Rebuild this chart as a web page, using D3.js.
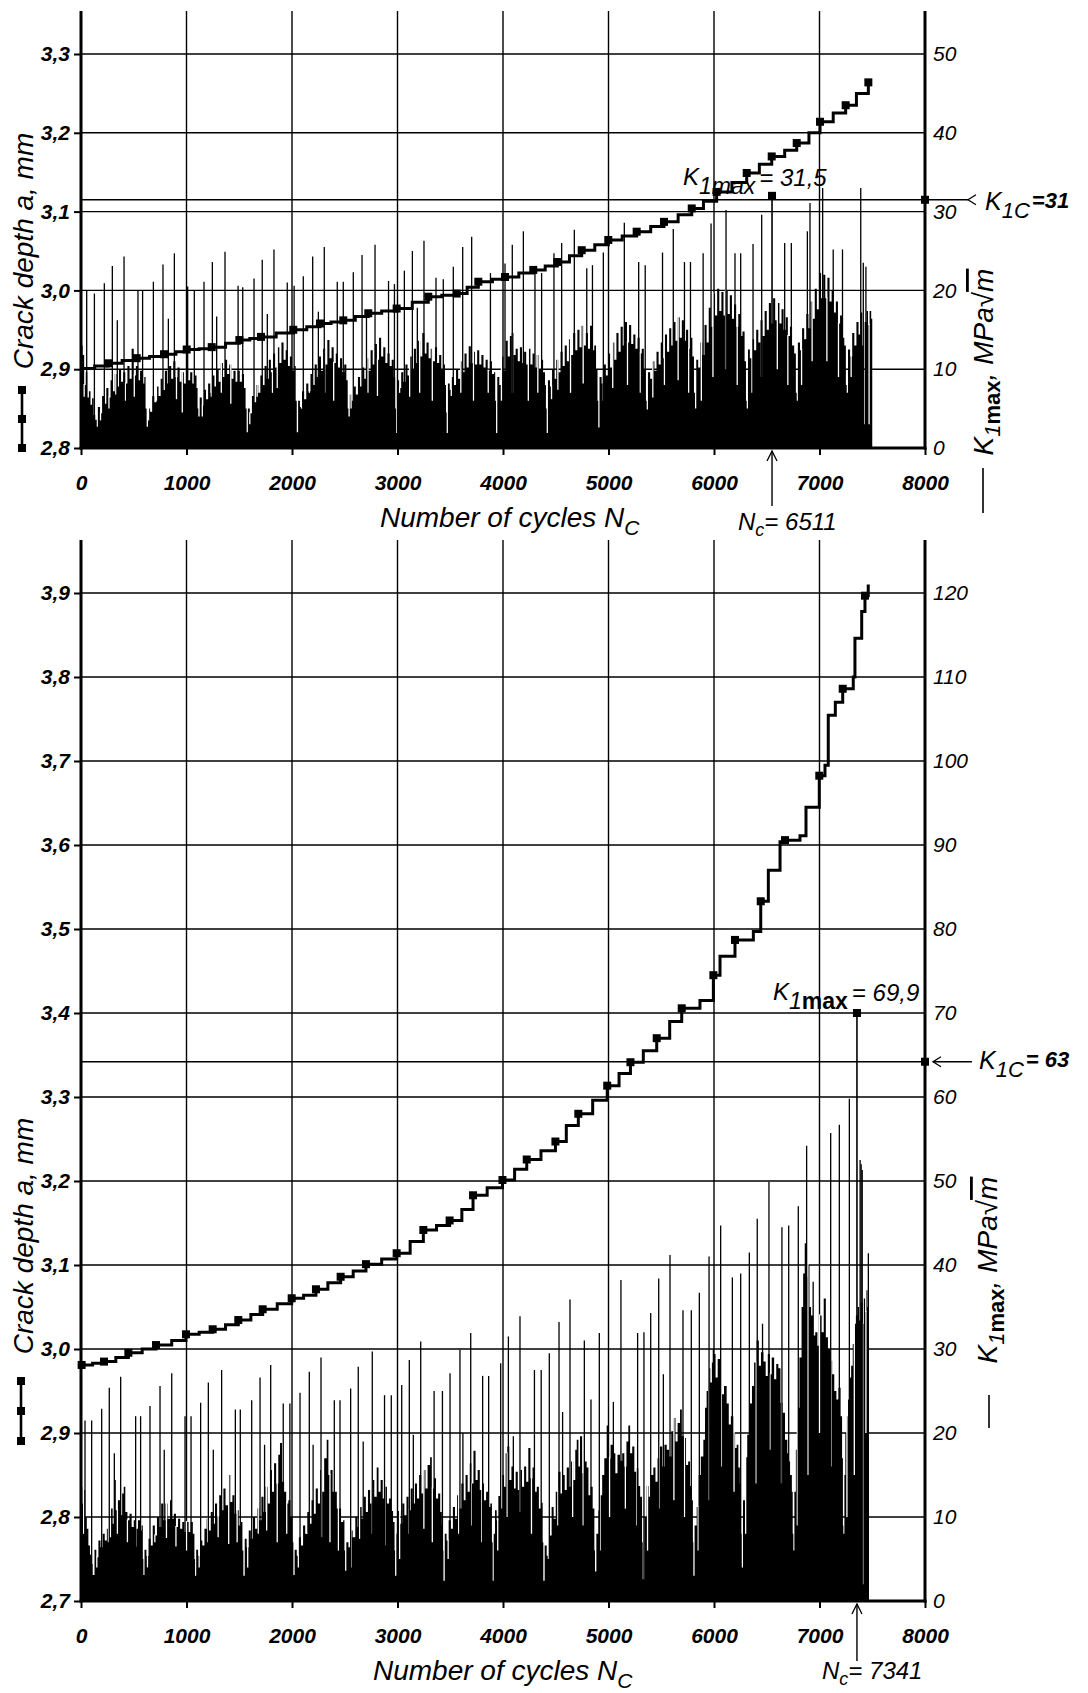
<!DOCTYPE html>
<html>
<head>
<meta charset="utf-8">
<script src="https://cdn.jsdelivr.net/npm/d3@7"></script>
<style>
  body { margin: 0; background: #fff; }
  svg { display: block; }
  text { font-family: "Liberation Sans", Arial, Helvetica, sans-serif; fill: #000; }
</style>
</head>
<body>
<svg id="chart" width="1088" height="1693"></svg>
<script>
/* Ticks */
const cycleTicks = [0, 1000, 2000, 3000, 4000, 5000, 6000, 7000, 8000];
const topDepthTicks = [2.8, 2.9, 3.0, 3.1, 3.2, 3.3];
const topKTicks = [0, 10, 20, 30, 40, 50];
const botDepthTicks = [2.7, 2.8, 2.9, 3.0, 3.1, 3.2, 3.3, 3.4, 3.5, 3.6, 3.7, 3.8, 3.9];
const botKTicks = [0, 10, 20, 30, 40, 50, 60, 70, 80, 90, 100, 110, 120];

/* Top chart: crack depth a (mm) vs cycles */
const topDepth = [[0,2.901],[130,2.904],[259,2.9075],[390,2.911],[528,2.914],[650,2.916],[787,2.919],[900,2.922],[1002,2.925],[1120,2.926],[1239,2.928],[1370,2.933],[1501,2.937],[1600,2.939],[1706,2.941],[1850,2.946],[2012,2.950],[2140,2.954],[2265,2.958],[2370,2.960],[2486,2.962],[2600,2.967],[2723,2.971],[2850,2.974],[2992,2.977],[3140,2.985],[3292,2.992],[3420,2.994],[3561,2.996],[3660,3.004],[3766,3.011],[3900,3.014],[4019,3.017],[4150,3.022],[4287,3.026],[4400,3.031],[4515,3.036],[4630,3.044],[4746,3.051],[4870,3.058],[4998,3.064],[5130,3.069],[5267,3.0745],[5400,3.081],[5526,3.087],[5660,3.096],[5789,3.104],[5900,3.113],[6025,3.125],[6170,3.137],[6310,3.149],[6430,3.160],[6547,3.170],[6670,3.178],[6784,3.187],[6900,3.200],[7005,3.214],[7130,3.225],[7248,3.235],[7350,3.250],[7463,3.264]];
const topDepthMarks = [[259,2.9075],[528,2.914],[787,2.919],[1002,2.925],[1239,2.928],[1501,2.937],[1706,2.941],[2012,2.950],[2265,2.958],[2486,2.962],[2723,2.971],[2992,2.977],[3292,2.992],[3561,2.996],[3766,3.011],[4019,3.017],[4287,3.026],[4515,3.036],[4746,3.051],[4998,3.064],[5267,3.0745],[5526,3.087],[5789,3.104],[6025,3.125],[6310,3.149],[6547,3.170],[6784,3.187],[7005,3.214],[7248,3.235],[7463,3.264]];

/* Top chart: K1max, stepped envelope of the dense signal, white gaps and tall needles */
const topKEnvelope = [
  [0,13],[15,11.8],[30,8],[45,9.6],[60,6.4],[75,7.2],[90,5.5],[105,6.3],[120,4.2],[135,3.6],
  [149,2.7],[160,5.2],[180,4.4],[200,6.6],[220,5.6],[240,7.6],[260,6.4],[280,8.6],[300,7.2],[320,9.4],[340,7.8],[360,10],[380,8.4],[400,9.6],[420,8.2],[440,10.4],[460,8.8],[480,12.6],[500,9.2],[520,10.4],[540,8.6],[560,9.8],[580,8.2],[600,9],[612,5],
  [622,2.7],[635,5],[655,4.6],[675,6.6],[695,5.8],[715,7.8],[735,6.6],[755,8.8],[775,7.4],[795,9.8],[815,8.2],[835,10.4],[855,8.8],[875,11],[895,9],[915,10.2],[935,8.4],[955,9.6],[975,8.2],[995,10],[1015,8.6],[1035,9.6],[1055,8.2],[1075,9.2],[1095,7.6],[1105,5],
  [1112,4],[1125,6.4],[1145,5.4],[1165,7.4],[1185,6.2],[1205,8.2],[1225,7],[1245,9.2],[1265,7.8],[1285,10],[1305,8.4],[1325,10.8],[1345,9],[1365,11.2],[1385,9.4],[1405,10.6],[1425,8.8],[1445,9.8],[1465,8.4],[1485,9.8],[1505,8.4],[1525,9.4],[1545,7.6],[1560,5],
  [1570,2],[1582,5],[1600,4.4],[1620,6.6],[1640,5.8],[1660,8],[1680,7],[1700,9.2],[1720,8],[1740,10.4],[1760,8.8],[1780,11.2],[1800,9.6],[1820,12],[1840,10.2],[1860,12.8],[1880,10.8],[1900,13.4],[1920,11.2],[1940,12.4],[1960,10.4],[1980,11.6],[2000,9.8],[2020,10.4],[2035,6],
  [2045,2],[2058,6],[2075,5.2],[2095,7.2],[2115,6.2],[2135,8.2],[2155,7.2],[2175,9.4],[2195,8],[2215,10.6],[2235,9],[2255,11.6],[2275,9.8],[2295,12.6],[2315,10.6],[2335,13.7],[2355,11.4],[2375,12.8],[2395,10.8],[2415,12],[2435,10.2],[2455,11.4],[2475,9.6],[2495,10.6],[2515,8.6],[2528,5],
  [2535,4],[2548,6.8],[2565,6],[2585,7.8],[2605,6.8],[2625,9],[2645,7.8],[2665,10.2],[2685,8.8],[2705,11.4],[2725,9.8],[2745,12.4],[2765,10.6],[2785,13.2],[2805,11.2],[2825,14],[2845,11.6],[2865,12.8],[2885,10.8],[2905,12],[2925,10.4],[2945,11.2],[2965,9],[2978,5],
  [2986,1.9],[2998,8.6],[3015,7.6],[3035,9.6],[3055,8.4],[3075,10.6],[3095,9.2],[3115,11.6],[3135,10],[3155,12.6],[3175,10.8],[3195,13.6],[3215,11.6],[3235,14.6],[3255,12],[3275,13.4],[3295,11.4],[3315,12.6],[3335,11],[3355,12.8],[3375,10.8],[3395,11.8],[3415,10],[3435,10.6],[3450,8],[3460,4.5],
  [3466,1.9],[3478,8.2],[3495,7.4],[3515,9],[3535,8],[3555,10],[3575,8.8],[3595,11],[3615,9.6],[3635,12],[3655,10.2],[3675,12.9],[3695,10.8],[3715,12.2],[3735,10.6],[3755,12.4],[3775,10.6],[3795,11.8],[3815,10.2],[3835,11.2],[3855,9.8],[3875,11],[3895,9.4],[3915,9.6],[3926,6],
  [3934,1.9],[3946,9],[3965,8],[3985,11.6],[4005,9.8],[4025,13.6],[4045,11.6],[4065,14.2],[4082,14.6],[4100,11.8],[4120,12.6],[4140,11],[4160,12.8],[4180,10.8],[4200,12.2],[4220,10.6],[4240,12.6],[4260,10.6],[4280,12],[4300,10.2],[4320,11.8],[4340,10],[4360,11.2],[4380,9.6],[4398,8],[4407,5],
  [4414,1.9],[4426,8.6],[4445,7.8],[4465,10],[4485,8.8],[4505,11.2],[4525,9.6],[4545,12.2],[4565,10.4],[4585,13],[4605,11],[4625,13.8],[4645,11.8],[4665,14.6],[4685,12.4],[4705,15],[4725,12.8],[4745,15.5],[4765,13],[4785,14.6],[4805,12.6],[4825,15.5],[4845,12.4],[4865,13],[4882,10],[4896,6],
  [4903,2.6],[4915,9],[4935,8.2],[4955,10.6],[4975,9.2],[4995,12],[5015,10.2],[5035,13.4],[5055,11.2],[5075,14.6],[5095,12.2],[5115,15.4],[5135,13],[5155,16],[5175,13.4],[5195,15.6],[5215,13.2],[5235,14.4],[5255,12.6],[5275,14],[5295,12],[5315,12.6],[5335,10],[5352,6],
  [5362,4.9],[5374,9.6],[5395,8.8],[5415,11],[5435,9.8],[5455,12.2],[5475,10.6],[5495,13.4],[5515,11.4],[5535,14.4],[5555,12.2],[5575,15.2],[5595,13],[5615,16],[5635,13.6],[5655,16.6],[5675,14],[5695,16.2],[5715,13.6],[5735,15],[5755,12.6],[5775,14],[5795,11.6],[5810,7],
  [5820,5],[5832,11.2],[5850,10.2],[5870,13.4],[5890,11.8],[5910,15.6],[5930,13.4],[5950,17.8],[5970,15.4],[5990,19.6],[6010,16.8],[6030,20.2],[6050,17.4],[6070,19.8],[6090,16.8],[6110,20],[6130,17],[6150,19.4],[6170,16.4],[6190,18.2],[6210,15.4],[6230,17],[6250,14.2],[6270,14.8],[6290,11],[6303,6],
  [6310,5],[6322,12.5],[6340,11.4],[6360,13.8],[6380,12.4],[6400,15],[6420,13.4],[6440,16.2],[6460,14.2],[6480,17.4],[6500,15],[6520,18.4],[6540,15.8],[6560,19],[6580,16.2],[6600,18.4],[6620,15.8],[6640,17.6],[6660,15],[6680,16.6],[6700,14.2],[6720,15.4],[6740,13],[6760,12],[6776,7],
  [6784,6],[6795,13.4],[6815,12.4],[6835,15.2],[6855,13.8],[6875,17],[6895,15.2],[6915,18.6],[6935,16.4],[6955,20.2],[6975,17.6],[6995,22.2],[7015,19],[7035,22],[7055,19],[7075,21.6],[7095,18.6],[7115,20],[7135,17.2],[7155,18.6],[7175,15.8],[7195,16.8],[7215,14],[7235,13],[7250,8],
  [7258,7],[7270,12.5],[7290,11.6],[7310,14.6],[7330,13],[7350,16],[7370,14.4],[7390,17.2],[7405,13],[7420,3],[7428,16],[7445,17.4],[7460,15.6],[7475,17.4],[7490,16.4],[7500,16.8]];
const topKSlits = [[30,6.5],[185,3.5],[265,5],[330,6.8],[420,6],[505,6.5],[640,3.5],[715,6],[790,7.4],[905,6.2],[960,4.5],[1150,4],[1235,6.5],[1330,7],[1420,5.6],[1600,3],[1670,6.5],[1815,7],[1860,7.6],[2090,5],[2165,7],[2310,7],[2395,6],[2560,5],[2620,7],[2720,7],[2810,6.6],[3020,7],[3115,6.5],[3210,7],[3330,6],[3510,6.6],[3600,7],[3720,6],[3860,7],[3985,6],[4090,7],[4240,6],[4330,7],[4460,6.2],[4520,7.4],[4640,7],[4760,8.2],[4950,6],[5040,7.6],[5180,8],[5300,7],[5420,6.4],[5530,8],[5660,8.6],[5760,7],[5880,6],[5990,9],[6110,10],[6220,8],[6360,7],[6450,9],[6600,10],[6700,8],[6830,8],[6930,11],[7070,11],[7180,9],[7300,9],[7470,3]];
const topKSpikes = [[54,20],[127,19.6],[221,20.9],[297,23.1],[344,16.2],[408,24.3],[540,20],[584,20],[686,21.1],[777,23.3],[828,16.4],[885,24.7],[1011,20.5],[1074,20],[1166,21.1],[1245,23.6],[1286,16.7],[1365,24.9],[1489,20.6],[1533,20.4],[1640,21.5],[1718,23.9],[1766,17],[1829,25.2],[1955,21],[2020,20.6],[2107,21.8],[2196,24.3],[2250,17.3],[2306,25.5],[2429,21.1],[2486,21.1],[2581,22.3],[2664,24.5],[2706,17.5],[2787,25.8],[2915,21.2],[2971,20.8],[3065,22.5],[3141,25],[3188,17.8],[3251,26.3],[3365,21.6],[3434,21.4],[3529,23],[3618,25.5],[3703,26.8],[3881,22.2],[4019,23.4],[4088,25.8],[4193,27.5],[4303,22.5],[4366,22.2],[4483,24.7],[4556,26],[4676,27.7],[4794,22.8],[4848,23.2],[4951,24.8],[5150,28.6],[5286,23.6],[5348,23.2],[5512,24.8],[5614,27.8],[5720,23.6],[5777,23.6],[5897,24.7],[5972,28.5],[6114,30.2],[6199,24.7],[6253,24.7],[6370,25.9],[6452,29.6],[6670,26],[6733,26],[6885,27.5],[6910,31.1],[7030,33],[7130,25.2],[7218,25.2],[7391,33],[7415,23.5],[7440,23]];
const topK1C = 31.5;
const topK1max = [6550, 32];

/* Bottom chart: crack depth a (mm) vs cycles */
const botDepth = [[0,2.979],[6,2.981],[110,2.983],[218,2.985],[330,2.990],[449,2.9955],[580,3.000],[711,3.0047],[860,3.010],[995,3.0175],[1120,3.020],[1248,3.0235],[1370,3.029],[1491,3.0345],[1610,3.041],[1722,3.0473],[1860,3.054],[1997,3.0604],[2110,3.064],[2227,3.0711],[2340,3.079],[2461,3.086],[2580,3.093],[2701,3.101],[2850,3.107],[2992,3.114],[3120,3.128],[3245,3.1417],[3370,3.147],[3494,3.153],[3610,3.166],[3716,3.183],[3850,3.192],[3995,3.2012],[4110,3.214],[4225,3.2256],[4360,3.236],[4497,3.247],[4600,3.266],[4714,3.280],[4850,3.296],[4988,3.3135],[5100,3.328],[5208,3.3414],[5330,3.355],[5457,3.370],[5580,3.390],[5694,3.4056],[5867,3.415],[5994,3.445],[6057,3.4675],[6199,3.487],[6373,3.497],[6443,3.533],[6515,3.570],[6626,3.604],[6673,3.6058],[6815,3.611],[6872,3.645],[6998,3.6825],[7052,3.695],[7083,3.7545],[7150,3.770],[7220,3.786],[7320,3.800],[7336,3.846],[7400,3.878],[7431,3.8968],[7462,3.910]];
const botDepthMarks = [[6,2.981],[218,2.985],[449,2.9955],[711,3.0047],[995,3.0175],[1248,3.0235],[1491,3.0345],[1722,3.0473],[1997,3.0604],[2227,3.0711],[2461,3.086],[2701,3.101],[2992,3.114],[3245,3.1417],[3494,3.153],[3716,3.183],[3995,3.2012],[4225,3.2256],[4497,3.247],[4714,3.280],[4988,3.3135],[5208,3.3414],[5457,3.370],[5694,3.4056],[5994,3.445],[6199,3.487],[6443,3.533],[6673,3.6058],[6998,3.6825],[7220,3.786],[7431,3.8968]];

/* Bottom chart: K1max */
const botKEnvelope = [
  [0,13.6],[12,11.6],[25,13.2],[40,10],[55,8.6],[70,6.6],[85,5.5],[100,4.4],[110,3.1],
  [117,3.1],[128,6.1],[145,5.2],[165,7.2],[185,6.4],[205,8],[225,7.2],[245,8.6],[265,7.6],[285,11],[300,9.2],[315,14.4],[330,10.8],[350,12],[370,10.2],[390,12.8],[405,13.6],[420,10.6],[440,9.6],[460,10.4],[480,8.8],[500,9.6],[520,8.6],[540,9.6],[560,8.4],[575,9],[586,5],
  [591,3.1],[602,6.1],[620,5.4],[640,7.4],[660,6.6],[680,9],[700,7.8],[720,10],[740,8.8],[760,11.6],[780,9.6],[800,11.6],[820,9.8],[844,12],[860,9.8],[880,10.4],[900,8.8],[920,9.8],[940,8.6],[960,9.4],[980,8.2],[1000,9.4],[1020,8.2],[1040,9.4],[1060,8],[1075,5],
  [1081,3],[1092,6.1],[1110,5.4],[1130,7.2],[1150,6.6],[1170,8.6],[1191,9.8],[1210,8.4],[1230,10.6],[1250,9.2],[1270,11.6],[1290,10],[1310,12.6],[1330,10.8],[1350,13.4],[1370,11.4],[1397,15],[1415,11.8],[1435,12.6],[1455,10.4],[1475,10.8],[1495,9],[1515,9.4],[1530,6],
  [1539,3],[1552,7.4],[1570,6.4],[1590,8.4],[1610,7.4],[1630,10],[1650,8.6],[1670,11],[1690,9.6],[1710,12.4],[1730,10.6],[1750,13.6],[1770,11.6],[1791,15.6],[1810,13],[1830,16.4],[1850,14],[1870,17.4],[1886,18.8],[1905,14.2],[1925,13],[1945,11.6],[1965,12],[1985,10],[2005,7],
  [2013,3.1],[2025,6.1],[2045,5.4],[2065,7.6],[2085,6.6],[2105,9],[2125,8],[2145,10.6],[2165,9.2],[2185,12],[2205,10.4],[2225,13.4],[2245,11.6],[2266,15.6],[2285,13],[2305,17],[2329,19.2],[2345,15],[2365,15.6],[2385,13],[2405,13],[2425,11],[2445,11],[2465,9.4],[2485,9.6],[2497,6],
  [2503,3.6],[2515,7],[2535,6.4],[2555,8.4],[2575,7.6],[2600,10],[2620,8.8],[2640,11.2],[2660,9.8],[2680,12.4],[2700,10.6],[2720,13.2],[2740,11.6],[2760,14.4],[2780,12.4],[2803,15.9],[2820,13],[2840,14.4],[2860,12.2],[2880,13.6],[2900,11.6],[2920,12.2],[2940,10.7],[2958,9.4],[2972,6],
  [2977,3],[2990,8],[3005,10.7],[3025,9.2],[3045,11.6],[3065,10.2],[3085,12.4],[3105,10.8],[3125,13.4],[3145,11.6],[3165,14],[3185,12.2],[3205,15],[3225,12.8],[3245,15.6],[3265,13.4],[3285,16.2],[3309,17.1],[3325,13.4],[3345,14.6],[3365,12.2],[3385,12.8],[3405,10.6],[3420,9],[3430,6],
  [3435,2.4],[3448,8],[3465,7.2],[3485,9.6],[3505,8.6],[3525,11.2],[3545,9.8],[3565,12.6],[3585,11],[3605,14],[3625,12],[3645,15],[3665,13],[3685,16.4],[3700,14],[3720,17.9],[3740,14.4],[3760,15.6],[3780,13.2],[3800,14],[3820,12],[3840,13],[3860,11.2],[3880,11.6],[3895,7],
  [3902,2.4],[3912,8],[3924,10.8],[3940,9.6],[3956,12.5],[3975,11],[3995,15],[4010,13.6],[4025,17.6],[4041,18.4],[4060,14.4],[4080,16],[4100,13.4],[4120,15.4],[4140,13.2],[4160,15.6],[4180,13.6],[4200,16],[4220,14.2],[4240,18.2],[4260,14.6],[4280,15.9],[4300,13],[4320,13.6],[4340,11],[4360,11.7],[4376,7],
  [4382,2.4],[4395,6.6],[4414,5.4],[4430,8.6],[4445,7.8],[4461,11.2],[4480,9.8],[4500,13],[4525,15.4],[4545,12.8],[4565,15],[4585,13.2],[4604,15.9],[4625,13.6],[4645,16.6],[4665,14.4],[4685,18],[4699,19.2],[4715,16],[4730,19.6],[4750,15.2],[4770,16.6],[4793,15.9],[4810,12.6],[4830,13.6],[4850,11],[4866,6],
  [4872,3.5],[4885,8],[4904,10.8],[4920,12.6],[4940,15],[4960,17],[4983,20.9],[5000,17],[5020,18.6],[5046,17.6],[5065,15.2],[5085,17.4],[5109,16.7],[5130,17.6],[5150,16],[5170,19],[5188,20.9],[5205,17.6],[5225,18.4],[5245,15.4],[5265,15.8],[5283,13.7],[5300,12.4],[5318,7],
  [5324,2.6],[5340,10],[5362,13.7],[5380,12.4],[5400,15],[5425,15.9],[5445,14.2],[5465,17],[5488,18.4],[5510,16],[5530,18.6],[5552,18],[5575,17.2],[5595,20.2],[5615,21.8],[5635,19],[5655,21.2],[5678,22.8],[5695,19.6],[5715,19.4],[5735,16.2],[5755,16.6],[5773,13.7],[5790,12],[5800,7],
  [5804,3],[5816,9],[5836,11.2],[5855,15],[5875,17.2],[5899,19.2],[5915,23],[5930,25],[5947,27.7],[5965,26],[5980,28.4],[5994,29.4],[6015,26.6],[6035,28.8],[6057,28.5],[6075,24.6],[6095,25.6],[6120,23.5],[6140,21],[6160,22],[6183,20],[6200,18.2],[6215,18.6],[6231,15.9],[6245,14],[6256,8],
  [6262,4],[6275,12],[6294,17.1],[6315,19.8],[6341,23.5],[6360,25.6],[6380,28.4],[6404,31],[6425,28],[6445,29.6],[6468,28.5],[6490,26.8],[6510,29.4],[6530,27],[6547,29],[6570,26.4],[6590,28.2],[6610,27.7],[6630,23.6],[6650,22.4],[6673,19.2],[6695,17.6],[6710,16.6],[6721,15],[6738,13],[6746,8],
  [6752,6],[6762,13],[6776,18],[6790,23],[6810,29],[6830,35],[6845,39],[6860,42.6],[6875,38.6],[6890,40],[6905,35],[6920,34],[6940,31.6],[6960,32],[6980,30.4],[7000,34],[7020,32],[7040,36],[7060,31.4],[7080,30],[7100,28.6],[7120,27],[7140,25],[7160,24],[7180,25.4],[7200,22],[7214,17],[7222,9],
  [7226,8],[7236,15],[7245,20],[7258,22],[7270,24],[7285,26.6],[7300,28],[7315,30.6],[7330,33],[7345,34],[7360,35],[7375,33.4],[7390,35.5],[7410,33],[7420,36],[7432,34.4],[7445,37],[7455,35],[7463,34]];
const botKSlits = [[25,8],[150,4],[260,7],[345,8],[440,7],[520,6.5],[630,4],[700,7],[810,7.5],[900,6.5],[1000,6],[1120,4],[1200,7],[1300,7.6],[1400,6.8],[1480,7],[1580,4],[1680,8],[1760,8.4],[1860,7],[1950,8],[2060,4],[2140,8],[2280,7.6],[2360,7],[2440,6],[2560,4],[2640,7.4],[2760,8],[2880,6.6],[3020,5],[3110,8],[3250,8.6],[3330,7],[3480,5],[3580,8],[3700,9],[3800,7],[3950,6],[4040,10],[4160,10.6],[4270,8],[4430,5],[4520,9],[4660,10],[4760,9],[4920,6],[5010,10],[5160,11],[5270,9],[5370,6],[5480,11],[5620,12],[5720,10],[5850,6],[5950,12],[6070,16],[6190,13],[6300,8],[6400,14],[6530,18],[6640,14],[6790,9],[6890,15],[7000,20],[7110,16],[7260,10],[7330,15],[7410,2],[7440,20]];
const botKSpikes = [[38,21.5],[101,21.5],[196,22.9],[268,25.4],[316,17.6],[376,26.7],[518,22],[565,22],[654,23.2],[749,25.6],[789,18],[860,27.1],[986,22],[1043,22],[1134,23.6],[1207,26],[1254,18],[1333,27.5],[1463,22.8],[1510,22.8],[1618,23.9],[1697,26.6],[1740,18.6],[1798,28.1],[1917,23.5],[1980,23.5],[2076,24.8],[2164,27.3],[2200,18.6],[2275,29],[2401,23.9],[2455,23.9],[2556,25.3],[2628,27.9],[2675,19],[2761,29.7],[2877,24.5],[2941,24.5],[3040,25.7],[3112,28.7],[3150,19.8],[3220,30.9],[3347,25],[3426,25],[3498,27.1],[3592,29.9],[3620,20],[3694,31.9],[3807,26.8],[3864,26.8],[3978,28.3],[4051,31.5],[4098,19.6],[4161,33.9],[4298,27.5],[4362,27.5],[4439,29.5],[4531,33.2],[4565,22.5],[4635,35.9],[4771,31],[4834,24],[4913,31.9],[5046,23.7],[5118,38.2],[5276,31.9],[5336,32],[5400,34.3],[5476,38.4],[5520,27],[5583,41.2],[5706,34.6],[5785,34.6],[5861,36.7],[5953,41],[5994,30],[6063,44.7],[6174,38.5],[6253,39],[6335,41.5],[6410,45.5],[6460,33],[6521,49.9],[6644,44.5],[6708,44.7],[6799,47],[6878,54.2],[6940,38],[7106,55.7],[7188,56.7],[7283,59.8],[7385,52.5],[7395,52],[7405,51.3],[7463,41.4]];
const botK1C = 64.2;
const botK1max = [7355, 70];

/* Labels */
const depthTitle = 'Crack depth a, mm';
const cycleTitle = 'Number of cycles N';

const svg = d3.select('#chart');
svg.append('rect').attr('width', 1088).attr('height', 1693).attr('fill', '#fff');
const commaFmt = d => d3.format('.1f')(d).replace('.', ',');

function drawPanel(p) {
  const g = svg.append('g');
  const x = d3.scaleLinear().domain([0, 8000]).range([81, 925]);
  const yA = d3.scaleLinear().domain(p.depthDomain).range([p.base, p.refY]);
  const yK = d3.scaleLinear().domain(p.kDomain).range([p.base, p.refY]);
  const [x0, x1] = x.range();

  /* grid */
  const grid = g.append('g').attr('stroke', '#000').attr('stroke-width', 1.4);
  grid.selectAll('line.v').data(cycleTicks.slice(1, -1)).join('line').attr('class', 'v')
    .attr('x1', d => x(d)).attr('x2', d => x(d)).attr('y1', p.top).attr('y2', p.base);
  grid.selectAll('line.h').data(p.depthTicks.slice(1)).join('line').attr('class', 'h')
    .attr('x1', x0).attr('x2', x1).attr('y1', d => yA(d)).attr('y2', d => yA(d));
  grid.append('line').attr('x1', x0).attr('x2', p.k1cEnd)
    .attr('y1', yK(p.k1c)).attr('y2', yK(p.k1c));

  /* K1max signal: stepped mass */
  const area = d3.area().x(d => x(d[0])).y0(p.base).y1(d => yK(d[1])).curve(d3.curveStepAfter);
  g.append('path').datum(p.env).attr('d', area).attr('fill', '#000');

  const bisR = d3.bisector(d => d[0]).right;
  const envAt = n => p.env[Math.max(0, bisR(p.env, n) - 1)][1];
  g.selectAll('line.slit').data(p.slits).join('line').attr('class', 'slit')
    .attr('x1', d => x(d[0])).attr('x2', d => x(d[0]))
    .attr('y1', d => yK(d[1])).attr('y2', d => yK(envAt(d[0])) - 1)
    .attr('stroke', '#fff').attr('stroke-width', 1.3);

  g.selectAll('line.spike').data(p.spikes).join('line').attr('class', 'spike')
    .attr('x1', d => x(d[0])).attr('x2', d => x(d[0]))
    .attr('y1', p.base).attr('y2', d => yK(d[1]))
    .attr('stroke', '#000').attr('stroke-width', 1.3);

  /* K1max peak */
  g.append('line').attr('x1', x(p.k1max[0])).attr('x2', x(p.k1max[0]))
    .attr('y1', p.base).attr('y2', yK(p.k1max[1])).attr('stroke', '#000').attr('stroke-width', 1.6);
  g.append('rect').attr('x', x(p.k1max[0]) - 4).attr('y', yK(p.k1max[1]) - 4)
    .attr('width', 8).attr('height', 8).attr('fill', '#000');

  /* crack depth curve */
  const line = d3.line().x(d => x(d[0])).y(d => yA(d[1])).curve(d3.curveStepAfter);
  g.append('path').datum(p.depth).attr('d', line)
    .attr('fill', 'none').attr('stroke', '#000').attr('stroke-width', 3);
  g.selectAll('rect.mark').data(p.marks).join('rect').attr('class', 'mark')
    .attr('x', d => x(d[0]) - 4).attr('y', d => yA(d[1]) - 4)
    .attr('width', 8).attr('height', 8).attr('fill', '#000');

  /* axes */
  const axL = g.append('g').attr('transform', `translate(${x0},0)`)
    .call(d3.axisLeft(yA).tickValues(p.depthTicks).tickSize(7).tickPadding(4).tickFormat(commaFmt));
  const axR = g.append('g').attr('transform', `translate(${x1},0)`)
    .call(d3.axisRight(yK).tickValues(p.kTicks).tickSize(0).tickPadding(8).tickFormat(d3.format('d')));
  const axB = g.append('g').attr('transform', `translate(0,${p.base})`)
    .call(d3.axisBottom(x).tickValues(cycleTicks).tickSize(7).tickPadding(20).tickFormat(d3.format('d')));
  [axL, axR, axB].forEach(a => {
    a.select('.domain').remove();
    a.selectAll('line').attr('stroke', '#000').attr('stroke-width', 2);
    a.attr('font-family', null).attr('font-size', null);
    a.selectAll('text').attr('font-size', 21).attr('font-style', 'italic').attr('fill', '#000');
  });
  axL.selectAll('text').attr('font-weight', 'bold');
  axB.selectAll('text').attr('font-weight', 'bold');

  const axes = g.append('g').attr('stroke', '#000').attr('stroke-width', 3);
  axes.append('line').attr('x1', x0).attr('x2', x0).attr('y1', p.top).attr('y2', p.base + 1.5);
  axes.append('line').attr('x1', x1).attr('x2', x1).attr('y1', p.top).attr('y2', p.base + 1.5);
  axes.append('line').attr('x1', x0 - 1.5).attr('x2', x1 + 1.5).attr('y1', p.base).attr('y2', p.base);

  /* K1C marker and arrow */
  const yc = yK(p.k1c);
  g.append('rect').attr('x', x1 - 4).attr('y', yc - 4).attr('width', 8).attr('height', 8).attr('fill', '#000');
  g.append('path').attr('d', `M${p.arrowTip + 8},${yc - 5}L${p.arrowTip},${yc}L${p.arrowTip + 8},${yc + 5}`)
    .attr('fill', 'none').attr('stroke', '#000').attr('stroke-width', 1.3);
  if (p.k1cTail) {
    g.append('line').attr('x1', p.arrowTip).attr('x2', p.k1cTail).attr('y1', yc).attr('y2', yc)
      .attr('stroke', '#000').attr('stroke-width', 1.4);
  }
  const kc = g.append('text').attr('x', p.k1cText[0]).attr('y', p.k1cText[1]).attr('font-style', 'italic');
  kc.append('tspan').attr('font-size', 25).text('K');
  kc.append('tspan').attr('font-size', 22).attr('dy', 8).text('1C');
  kc.append('tspan').attr('font-size', 22).attr('font-weight', 'bold').attr('dy', -10).attr('dx', 2).text(p.k1cLabel);

  /* K1max label */
  const km = g.append('text').attr('x', p.k1maxText[0]).attr('y', p.k1maxText[1]).attr('font-style', 'italic').attr('font-size', 24);
  km.append('tspan').text('K');
  km.append('tspan').attr('font-size', 23).attr('dy', 9).text('1');
  km.append('tspan').attr('font-size', 23).attr('font-weight', p.maxBold ? 'bold' : null)
    .attr('font-style', p.maxBold ? 'normal' : null).text('max');
  km.append('tspan').attr('dy', -8).attr('dx', 4).text(p.k1maxLabel);

  /* Nc arrow and label */
  const xn = x(p.k1max[0]);
  g.append('line').attr('x1', xn).attr('x2', xn).attr('y1', p.base + 3).attr('y2', p.base + p.arrowLen)
    .attr('stroke', '#000').attr('stroke-width', 1.4);
  g.append('path').attr('d', `M${xn - 5},${p.base + 13}L${xn},${p.base + 3}L${xn + 5},${p.base + 13}`)
    .attr('fill', 'none').attr('stroke', '#000').attr('stroke-width', 1.3);
  const nc = g.append('text').attr('x', p.ncText[0]).attr('y', p.ncText[1]).attr('font-style', 'italic').attr('font-size', 24);
  nc.append('tspan').text('N');
  nc.append('tspan').attr('font-size', 18).attr('dy', 6).text('c');
  nc.append('tspan').attr('dy', -6).text(p.ncLabel);

  /* x title */
  const xt = g.append('text').attr('x', p.xTitle[0]).attr('y', p.xTitle[1]).attr('font-style', 'italic').attr('font-size', 28);
  xt.append('tspan').text(cycleTitle);
  xt.append('tspan').attr('font-size', 21).attr('dy', 8).text('C');

  /* left title and legend symbol */
  g.append('text').attr('transform', `translate(${p.lTitle[0]},${p.lTitle[1]}) rotate(-90)`)
    .attr('text-anchor', 'middle').attr('font-style', 'italic').attr('font-size', 28).text(depthTitle);
  const [lx, ly0, ly1] = p.lSym;
  g.append('line').attr('x1', lx).attr('x2', lx).attr('y1', ly0).attr('y2', ly1)
    .attr('stroke', '#000').attr('stroke-width', 2.6);
  g.selectAll('rect.sym').data([ly0, (ly0 + ly1) / 2, ly1]).join('rect').attr('class', 'sym')
    .attr('x', lx - 4).attr('y', d => d - 4).attr('width', 8).attr('height', 8).attr('fill', '#000');

  /* right title and legend dash */
  const rt = g.append('text').attr('transform', `translate(${p.rTitle[0]},${p.rTitle[1]}) rotate(-90)`)
    .attr('text-anchor', 'middle').attr('font-style', 'italic').attr('font-size', 28);
  rt.append('tspan').text('K');
  rt.append('tspan').attr('font-size', 22).attr('dy', 7).text('1');
  rt.append('tspan').attr('font-size', 22).attr('font-weight', 'bold').attr('font-style', 'normal').text('max');
  rt.append('tspan').attr('dy', -7).text(', MPa');
  rt.append('tspan').attr('font-style', 'normal').text('\u221A');
  rt.append('tspan').style('text-decoration', 'overline').text('m');
  const [rx, ry0, ry1] = p.rSym;
  g.append('line').attr('x1', rx).attr('x2', rx).attr('y1', ry0).attr('y2', ry1)
    .attr('stroke', '#000').attr('stroke-width', 1.6);
}

drawPanel({
  depthDomain: [2.8, 3.3], kDomain: [0, 50], base: 448, refY: 54, top: 11,
  depthTicks: topDepthTicks, kTicks: topKTicks,
  depth: topDepth, marks: topDepthMarks,
  env: topKEnvelope, slits: topKSlits, spikes: topKSpikes,
  k1c: topK1C, k1max: topK1max,
  k1cEnd: 968, arrowTip: 968, k1cTail: null, k1cText: [985, 210], k1cLabel: '=31',
  k1maxText: [683, 185], k1maxLabel: '= 31,5', maxBold: false,
  arrowLen: 58, ncText: [738, 530], ncLabel: '= 6511',
  xTitle: [380, 527], lTitle: [33, 251], lSym: [22, 390, 448],
  rTitle: [993, 362], rSym: [983, 468, 513]
});

drawPanel({
  depthDomain: [2.7, 3.9], kDomain: [0, 120], base: 1601, refY: 593, top: 540,
  depthTicks: botDepthTicks, kTicks: botKTicks,
  depth: botDepth, marks: botDepthMarks,
  env: botKEnvelope, slits: botKSlits, spikes: botKSpikes,
  k1c: botK1C, k1max: botK1max,
  k1cEnd: 925, arrowTip: 933, k1cTail: 972, k1cText: [979, 1069], k1cLabel: '= 63',
  k1maxText: [773, 1000], k1maxLabel: '= 69,9', maxBold: true,
  arrowLen: 60, ncText: [822, 1679], ncLabel: '= 7341',
  xTitle: [373, 1680], lTitle: [33, 1236], lSym: [21, 1381, 1441],
  rTitle: [997, 1270], rSym: [989, 1395, 1428]
});
</script>
</body>
</html>
